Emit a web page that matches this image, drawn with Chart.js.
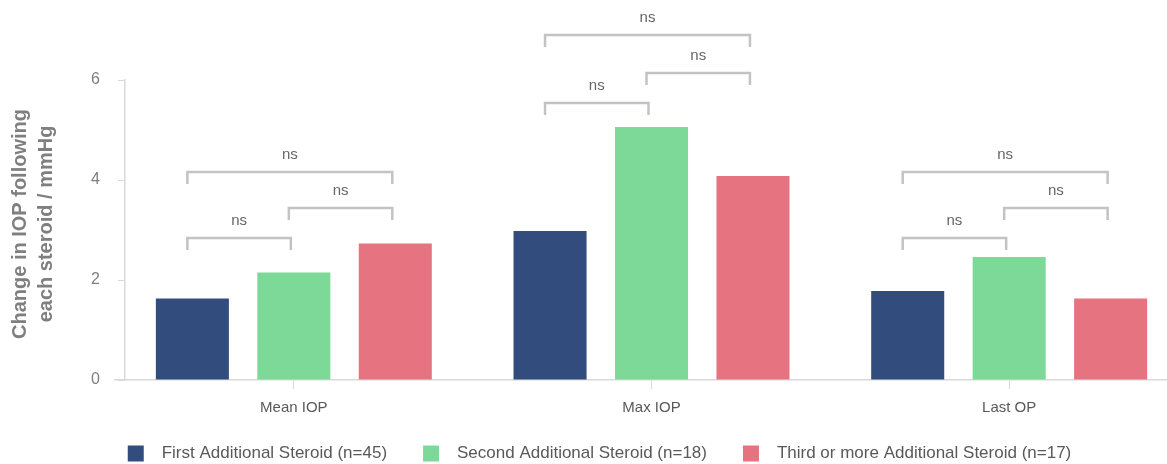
<!DOCTYPE html>
<html>
<head>
<meta charset="utf-8">
<script src="https://cdn.jsdelivr.net/npm/chart.js@4.4.0/dist/chart.umd.min.js"></script>
<style>
	html, body { margin: 0; padding: 0; background: #fff; }
	#wrap { width: 1167px; height: 464px; }
</style>
</head>
<body>
<div id="wrap"><canvas id="canvas"></canvas></div>
<script>
const categories = ['Mean IOP', 'Max IOP', 'Last OP'];
const seriesNames = ['First Additional Steroid (n=45)', 'Second Additional Steroid (n=18)', 'Third or more Additional Steroid (n=17)'];
const firstValues = [1.63, 2.98, 1.78];
const secondValues = [2.15, 5.06, 2.46];
const thirdValues = [2.73, 4.08, 1.63];
const yTicks = [0, 2, 4, 6];

// significance brackets: category, from series, to series, height (data units)
const bracketCategory = [0, 0, 0, 1, 1, 1, 2, 2, 2];
const bracketFrom = [0, 1, 0, 0, 1, 0, 0, 1, 0];
const bracketTo = [1, 2, 2, 1, 2, 2, 1, 2, 2];
const bracketLevel = [2.84, 3.44, 4.16, 5.54, 6.14, 6.9, 2.84, 3.44, 4.16];
const bracketLabel = ['ns', 'ns', 'ns', 'ns', 'ns', 'ns', 'ns', 'ns', 'ns'];

const colors = ['#324c7d', '#7dd998', '#e57480'];
const font = 'Liberation Sans, Arial, sans-serif';

const bracketPlugin = {
	id: 'brackets',
	afterInit(chart) {
		// fixed legend height so the legend row sits at the bottom edge
		const lg = chart.legend;
		const fit = lg.fit.bind(lg);
		lg.fit = function () { fit(); this.height = 50; };
	},
	afterLayout(chart) {
		// category band runs a bit past the canvas edge, as in the original
		const x = chart.scales.x;
		x.left = 115;
		x.right = 1188;
		x.width = x.right - x.left;
		x.configure();
		chart.legend.top -= 5;
	},
	afterDraw(chart) {
		const { ctx } = chart;
		const y = chart.scales.y;
		ctx.save();
		ctx.strokeStyle = '#c3c3c3';
		ctx.lineWidth = 2.5;
		ctx.fillStyle = '#666';
		ctx.font = '15px ' + font;
		ctx.textAlign = 'center';
		ctx.textBaseline = 'middle';
		bracketCategory.forEach((cat, i) => {
			const a = chart.getDatasetMeta(bracketFrom[i]).data[cat];
			const b = chart.getDatasetMeta(bracketTo[i]).data[cat];
			const x1 = a.x - 5, x2 = b.x - 3;
			const py = Math.round(y.getPixelForValue(bracketLevel[i]));
			ctx.beginPath();
			ctx.moveTo(x1, py + 12);
			ctx.lineTo(x1, py);
			ctx.lineTo(x2, py);
			ctx.lineTo(x2, py + 12);
			ctx.stroke();
			ctx.fillText(bracketLabel[i], (x1 + x2) / 2, py - 17);
		});
		// y axis title
		ctx.fillStyle = '#7f7f7f';
		ctx.font = 'bold 20px ' + font;
		ctx.translate(33, 224);
		ctx.rotate(-Math.PI / 2);
		ctx.fillText('Change in IOP following', 0, -13);
		ctx.fillText('each steroid / mmHg', 0, 13);
		ctx.restore();
	}
};

new Chart(document.getElementById('canvas'), {
	type: 'bar',
	data: {
		labels: categories,
		datasets: [
			{ label: seriesNames[0], data: firstValues, backgroundColor: colors[0] },
			{ label: seriesNames[1], data: secondValues, backgroundColor: colors[1] },
			{ label: seriesNames[2], data: thirdValues, backgroundColor: colors[2] }
		]
	},
	options: {
		responsive: true,
		maintainAspectRatio: false,
		animation: false,
		layout: { padding: { top: 80, right: -17, left: 15, bottom: 0 } },
		datasets: { bar: { categoryPercentage: 0.851, barPercentage: 0.72 } },
		plugins: {
			tooltip: { enabled: false },
			legend: {
				position: 'bottom',
				labels: {
					boxWidth: 16,
					boxHeight: 16,
					padding: 36,
					color: '#595959',
					font: { family: font, size: 17 },
					generateLabels: (chart) => Chart.defaults.plugins.legend.labels.generateLabels(chart)
						.map(item => Object.assign(item, { text: '  ' + item.text }))
				}
			}
		},
		scales: {
			x: {
				afterFit: (s) => { s.height = 34; },
				grid: { drawOnChartArea: false, offset: false, color: '#d9d9d9', tickLength: 9 },
				border: { color: '#d9d9d9', width: 1.5 },
				ticks: { color: '#595959', font: { family: font, size: 15 }, padding: 10 }
			},
			y: {
				min: 0,
				max: 6,
				afterBuildTicks: (s) => { s.ticks = yTicks.map(v => ({ value: v })); },
				afterFit: (s) => { s.width = 110; },
				grid: { drawOnChartArea: false, color: '#d9d9d9', tickLength: 7 },
				border: { color: '#d9d9d9', width: 1.5 },
				ticks: { color: '#7f7f7f', font: { family: font, size: 16 }, padding: 18 }
			}
		}
	},
	plugins: [bracketPlugin]
});
</script>
</body>
</html>
